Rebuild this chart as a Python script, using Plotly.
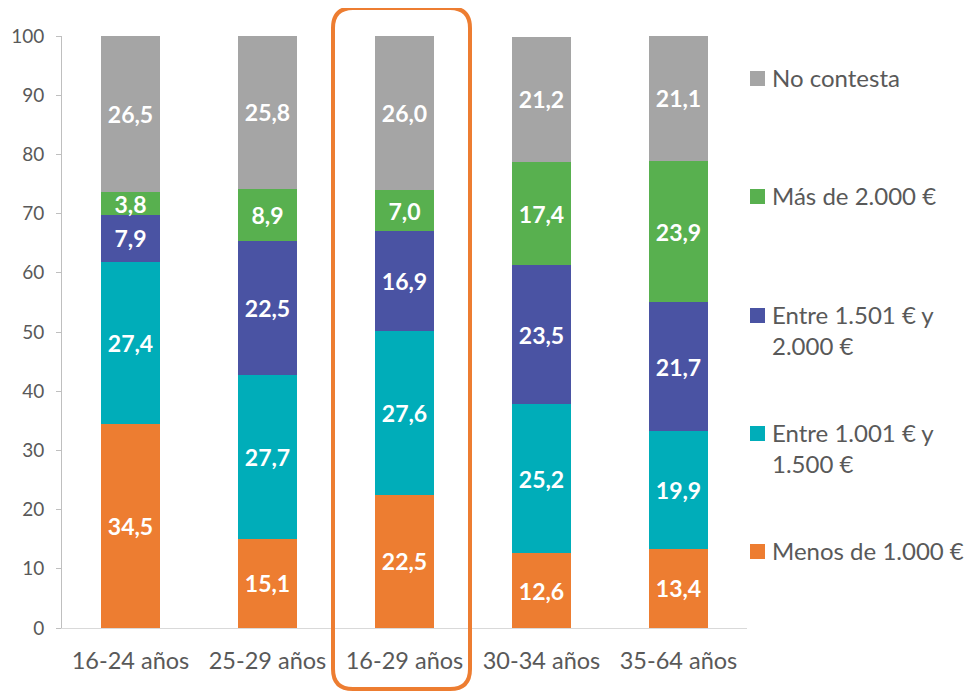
import plotly.graph_objects as go

categories = ["16-24 años", "25-29 años", "16-29 años", "30-34 años", "35-64 años"]
series_names = ["Menos de 1.000 €", "Entre 1.001 € y<br>1.500 €", "Entre 1.501 € y<br>2.000 €",
                "Más de 2.000 €", "No contesta"]
menos_1000 = [34.5, 15.1, 22.5, 12.6, 13.4]
entre_1001_1500 = [27.4, 27.7, 27.6, 25.2, 19.9]
entre_1501_2000 = [7.9, 22.5, 16.9, 23.5, 21.7]
mas_2000 = [3.8, 8.9, 7.0, 17.4, 23.9]
no_contesta = [26.5, 25.8, 26.0, 21.2, 21.1]
series_values = [menos_1000, entre_1001_1500, entre_1501_2000, mas_2000, no_contesta]
colors = ["#ED7D31", "#00ADB9", "#4A53A3", "#58B04F", "#A5A5A5"]
highlight_index = 2

FONT = "Lato, Carlito, Calibri, sans-serif"
TXT = "#595959"

fig = go.Figure()
for name, vals, col in zip(series_names, series_values, colors):
    fig.add_trace(go.Bar(
        x=categories, y=vals, name=name, marker=dict(color=col, line=dict(width=0)),
        texttemplate="<b>%{y:.1f}</b>", textposition="inside", insidetextanchor="middle",
        textangle=0, constraintext="none",
        textfont=dict(color="white", size=23, family=FONT), showlegend=False,
    ))

OFF = 8  # page body margin
W, H = 972 - OFF, 692 - OFF
L = 62 - OFF
T = 36 - OFF
R = W - (747 - OFF)
B = H - (628 - OFF)
pw, ph = W - L - R, H - T - B

def px_x(px):
    return (px - OFF - L) / pw

def px_y(py):
    return 1 - (py - OFF - T) / ph

shapes = []
annotations = []
# manual legend (top to bottom: reversed order)
leg_y_px = [78, 196, 315, 433, 551]
for k, idx in enumerate(reversed(range(len(series_names)))):
    yc = leg_y_px[k]
    shapes.append(dict(type="rect", xref="paper", yref="paper",
                       x0=px_x(750), x1=px_x(765), y0=px_y(yc + 8), y1=px_y(yc - 7),
                       fillcolor=colors[idx], line=dict(width=0)))
    annotations.append(dict(xref="paper", yref="paper", x=px_x(770), y=px_y(yc - 17),
                            xanchor="left", yanchor="top", text=series_names[idx],
                            showarrow=False, align="left",
                            font=dict(size=24, color=TXT, family=FONT)))

# highlight rounded rectangle around category
x0, x1 = px_x(333), px_x(470)
y1 = px_y(8)
y0 = px_y(689)
rx, ry = 20 / pw, 20 / ph
path = (f"M {x0+rx},{y1} L {x1-rx},{y1} Q {x1},{y1} {x1},{y1-ry} "
        f"L {x1},{y0+ry} Q {x1},{y0} {x1-rx},{y0} L {x0+rx},{y0} "
        f"Q {x0},{y0} {x0},{y0+ry} L {x0},{y1-ry} Q {x0},{y1} {x0+rx},{y1} Z")
shapes.append(dict(type="path", xref="paper", yref="paper", path=path,
                   line=dict(color="#ED7D31", width=4), fillcolor="rgba(0,0,0,0)"))

fig.update_layout(
    barmode="stack", bargap=0.575, width=W, height=H,
    margin=dict(l=L, r=R, t=T, b=B), separators=",.",
    plot_bgcolor="white", paper_bgcolor="white",
    font=dict(family=FONT, color=TXT, size=18),
    shapes=shapes, annotations=annotations,
    uniformtext=dict(mode=False),
)
fig.update_yaxes(range=[0, 100], dtick=10, showgrid=False, zeroline=False,
                 showline=True, linecolor="#BFBFBF", linewidth=1,
                 ticks="outside", ticklen=5, tickcolor="#BFBFBF",
                 ticklabelstandoff=8, automargin=False,
                 tickfont=dict(size=19, color=TXT, family=FONT))
fig.update_xaxes(showgrid=False, showline=True, linecolor="#D9D9D9", linewidth=1,
                 ticks="", ticklabelstandoff=12, automargin=False,
                 tickfont=dict(size=23.5, color=TXT, family=FONT))

fig.write_html("out.html",
               post_script="document.documentElement.style.overflow='hidden';"
                           "document.body.style.overflow='hidden';")
